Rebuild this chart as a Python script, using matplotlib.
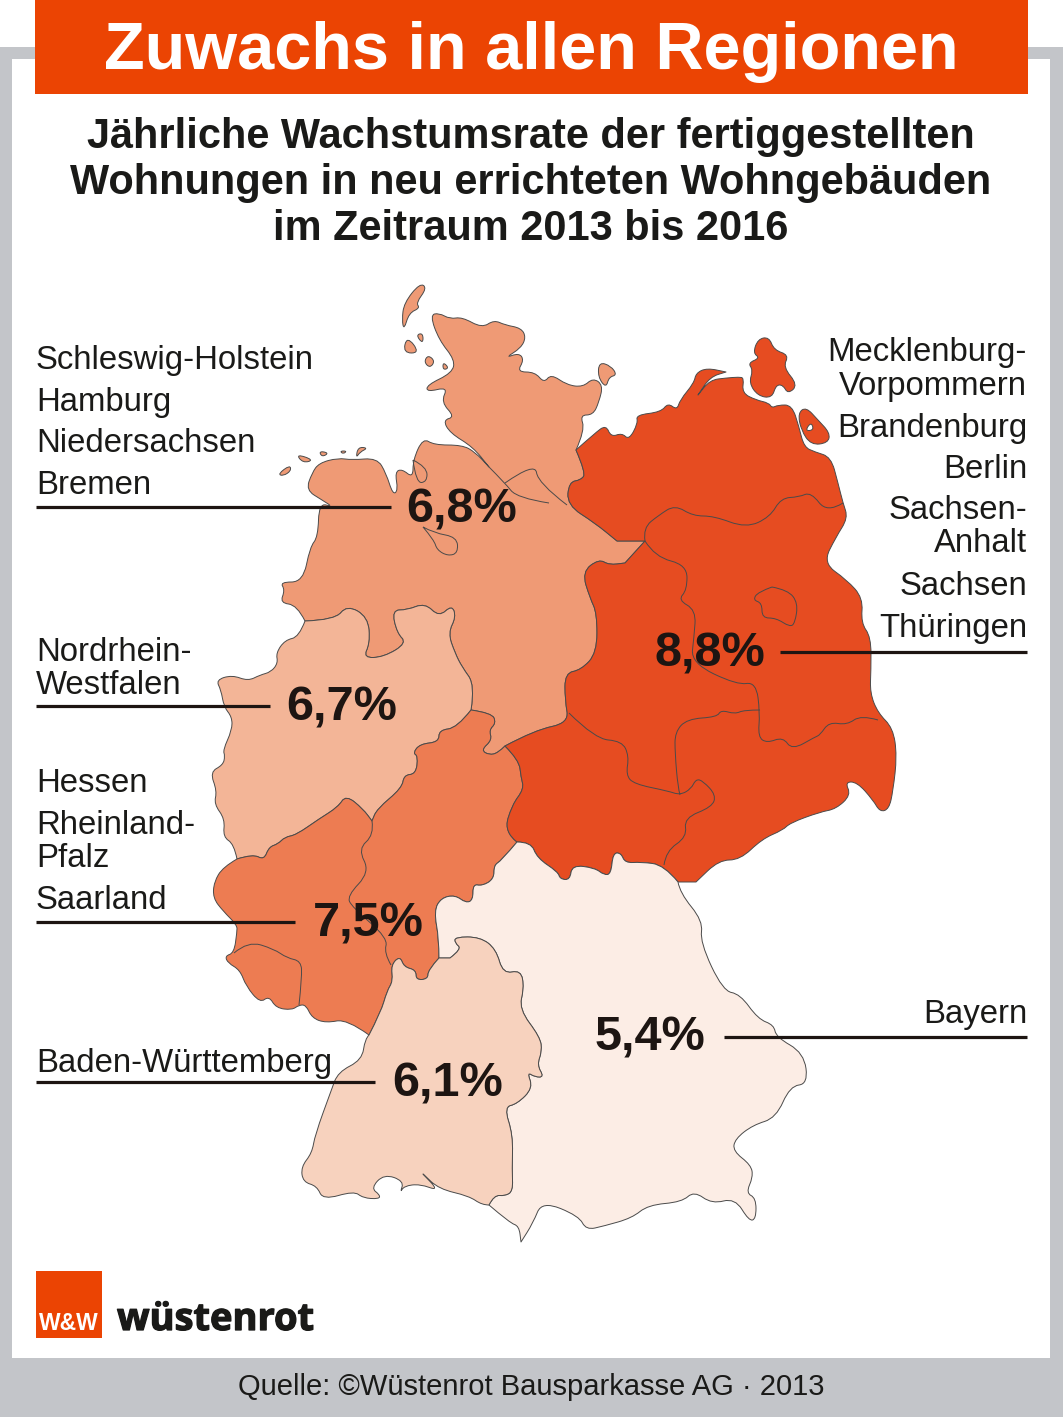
import matplotlib
matplotlib.use('Agg')
import matplotlib.pyplot as plt
import matplotlib.patheffects as pe
from matplotlib.patches import PathPatch, Rectangle
from matplotlib.path import Path

plt.rcParams['font.family'] = ['Liberation Sans', 'DejaVu Sans']

# colours of the rate classes
NW_COLOR = '#EF9A75'
NRW_COLOR = '#F3B597'
SW_COLOR = '#ED7C52'
EAST_COLOR = '#E64C21'
BW_COLOR = '#F7D2BE'
BAY_COLOR = '#FCEDE5'
ORANGE = '#EB4403'
GREY = '#C3C5C9'
DARK = '#1D1512'
EDGE = '#4A4A4A'

TITLE = 'Zuwachs in allen Regionen'
SUBTITLE = ['Jährliche Wachstumsrate der fertiggestellten',
            'Wohnungen in neu errichteten Wohngebäuden',
            'im Zeitraum 2013 bis 2016']
SOURCE = 'Quelle: ©Wüstenrot Bausparkasse AG · 2013'

RATES = ['6,8%', '6,7%', '7,5%', '6,1%', '8,8%', '5,4%']
RATE_POS = [(462, 523), (342, 720), (368, 937), (448, 1096), (710, 667), (650, 1051)]

LEFT_LABELS = ['Schleswig-Holstein', 'Hamburg', 'Niedersachsen', 'Bremen', 'Nordrhein-', 'Westfalen',
               'Hessen', 'Rheinland-', 'Pfalz', 'Saarland', 'Baden-Württemberg']
LEFT_Y = [369, 411, 452, 494, 661, 694, 792, 834, 867, 909, 1072]
RIGHT_LABELS = ['Mecklenburg-', 'Vorpommern', 'Brandenburg', 'Berlin', 'Sachsen-', 'Anhalt',
                'Sachsen', 'Thüringen', 'Bayern']
RIGHT_Y = [361, 395, 437, 478, 519, 552, 595, 637, 1023]

LEADERS = [(36, 391, 507), (36, 270, 706), (36, 295, 922), (36, 375, 1082), (780, 1027, 652), (724, 1027, 1037)]

# shared borders in pixels (a doubled point stays a sharp corner)
B_NW_EAST = [(576, 450), (586, 473), (581, 480), (569, 482), (567, 505), (595, 523), (617, 541), (617, 541),
             (645, 541), (645, 541), (625, 563), (625, 563), (609, 565), (599, 559), (582, 572), (590, 598),
             (597, 613), (597, 653), (581, 670), (565, 673), (565, 700), (569, 723), (535, 730), (505, 746)]
B_NW_SW = [(505, 746), (498, 753), (489, 755), (481, 750), (492, 740), (489, 730), (496, 723), (492, 713), (471, 710)]
B_NW_NRW = [(471, 710), (475, 685), (462, 667), (455, 653), (448, 633), (456, 617), (452, 605), (439, 617),
            (425, 603), (407, 610), (392, 610), (397, 633), (407, 643), (384, 657), (363, 658), (370, 643),
            (368, 617), (347, 605), (335, 620), (305, 621)]
B_NRW_SW = [(471, 710), (457, 728), (439, 730), (439, 742), (420, 744), (413, 753), (418, 756), (416, 774),
            (404, 775), (402, 788), (377, 809), (372, 821), (372, 821), (363, 809), (346, 795), (338, 807), (319, 819),
            (296, 835), (285, 837), (278, 844), (269, 847), (264, 860), (253, 854), (237, 859)]
B_SW_EAST = [(505, 746), (519, 760), (521, 777), (524, 789), (512, 805), (504, 832), (517, 842)]
B_SW_BAY = [(517, 842), (501, 861), (494, 865), (494, 879), (482, 886), (473, 884), (473, 900), (466, 903),
            (455, 895), (441, 898), (434, 911), (439, 939), (439, 958)]
B_SW_BW = [(439, 958), (428, 970), (428, 979), (416, 980), (416, 970), (404, 967), (400, 956), (391, 965),
           (393, 981), (387, 991), (381, 1012), (369, 1035)]
B_EAST_BAY = [(517, 842), (531, 842), (537, 858), (558, 872), (560, 879), (570, 880), (572, 865), (595, 868),
              (604, 875), (611, 874), (613, 853), (621, 853), (625, 863), (641, 862), (664, 865), (678, 882)]
B_BW_LINK = [(439, 958), (450, 958)]
B_BW_BAY = [(450, 958), (462, 949), (455, 943), (455, 937), (480, 937), (496, 949), (503, 974), (521, 970),
            (524, 988), (519, 1009), (540, 1037), (542, 1051), (537, 1065), (544, 1077), (535, 1077), (527, 1072),
            (533, 1088), (517, 1104), (504, 1107), (513, 1135), (512, 1170), (513, 1191), (505, 1196), (494, 1195),
            (489, 1205)]

COAST_NW = [(305, 621), (297, 605), (280, 603), (285, 590), (280, 582), (303, 582), (310, 547), (318, 537),
            (319, 503), (333, 507), (322, 500), (306, 490), (312, 473), (319, 463), (338, 458), (352, 460),
            (377, 458), (386, 473), (393, 495), (398, 490), (395, 472), (402, 469), (413, 478), (413, 460),
            (423, 438), (434, 445), (462, 445), (475, 452), (489, 467), (489, 467), (473, 447), (450, 433), (443, 420),
            (455, 417), (441, 402), (448, 387), (427, 392), (427, 385), (452, 373), (455, 360), (439, 340),
            (430, 315), (439, 313), (450, 319), (462, 317), (482, 328), (494, 320), (505, 325), (521, 328),
            (526, 337), (521, 348), (505, 358), (519, 353), (524, 360), (517, 372), (535, 372), (544, 383),
            (551, 374), (567, 385), (583, 387), (593, 378), (603, 385), (599, 402), (593, 415), (580, 415),
            (585, 430), (576, 450)]
COAST_NRW = [(305, 621), (299, 637), (285, 640), (276, 653), (278, 663), (271, 672), (260, 675), (248, 681),
             (232, 675), (216, 680), (221, 690), (224, 707), (232, 717), (232, 730), (223, 750), (225, 756),
             (223, 765), (210, 772), (217, 791), (214, 804), (225, 819), (223, 837), (234, 844), (237, 859)]
COAST_SW = [(369, 1035), (347, 1019), (326, 1023), (312, 1018), (306, 1005), (299, 1005), (292, 1010), (276, 1008),
            (269, 996), (260, 1003), (246, 986), (240, 970), (228, 963), (225, 956), (234, 953), (237, 932),
            (237, 925), (223, 911), (213, 898), (214, 882), (223, 867), (237, 859)]
COAST_EAST = [(576, 450), (595, 433), (606, 425), (611, 437), (622, 433), (629, 440), (638, 423), (636, 415),
              (661, 412), (668, 403), (677, 410), (680, 400), (694, 383), (696, 373), (707, 368), (726, 372),
              (726, 372), (710, 377), (698, 395), (698, 395), (710, 380), (726, 378), (739, 377), (744, 378),
              (742, 393), (756, 400), (769, 403), (772, 408), (778, 405), (792, 405), (799, 427), (804, 447),
              (815, 452), (831, 457), (838, 483), (843, 503), (848, 518), (836, 537), (823, 563), (847, 580),
              (863, 598), (861, 623), (871, 637), (871, 670), (870, 693), (878, 713), (893, 728), (897, 756),
              (893, 791), (889, 809), (880, 812), (873, 800), (857, 782), (845, 782), (851, 795), (836, 809),
              (820, 812), (790, 823), (783, 830), (762, 839), (740, 860), (719, 860), (696, 882), (696, 882), (678, 882)]
COAST_BW = [(489, 1205), (482, 1205), (469, 1196), (439, 1189), (423, 1174), (423, 1174), (439, 1191), (420, 1184),
            (404, 1186), (400, 1193), (404, 1181), (384, 1174), (371, 1188), (380, 1195), (379, 1199), (363, 1198),
            (354, 1191), (323, 1200), (317, 1186), (303, 1182), (301, 1167), (312, 1153), (315, 1135), (331, 1091),
            (338, 1072), (362, 1060), (365, 1039), (369, 1035)]
COAST_BAY = [(678, 882), (680, 893), (703, 921), (700, 942), (723, 991), (740, 994), (758, 1019), (774, 1025),
             (776, 1037), (804, 1053), (808, 1084), (790, 1086), (776, 1118), (753, 1125), (735, 1139), (733, 1151),
             (751, 1165), (753, 1177), (746, 1193), (756, 1198), (756, 1219), (749, 1221), (735, 1198), (712, 1204),
             (694, 1191), (682, 1202), (648, 1205), (632, 1218), (604, 1226), (586, 1230), (579, 1216), (542, 1201),
             (533, 1223), (521, 1242), (521, 1242), (519, 1226), (510, 1223), (489, 1205)]

# islands
ISLANDS_NW = [
    [(420, 283), (427, 288), (416, 303), (420, 308), (409, 313), (404, 330), (402, 320), (404, 303)],
    [(416, 335), (423, 333), (423, 344)],
    [(407, 336), (420, 353), (403, 353)],
    [(428, 355), (435, 361), (430, 368), (424, 362)],
    [(443, 362), (449, 368), (443, 370)],
    [(599, 362), (611, 366), (617, 375), (609, 377), (606, 388), (598, 377)],
    [(278, 474), (290, 465), (291, 471), (283, 476)],
    [(296, 454), (314, 460), (303, 463)],
    [(319, 451), (329, 453), (322, 457)],
    [(340, 451), (347, 451), (343, 454)],
    [(356, 458), (358, 447), (368, 448), (360, 452)],
]
ISLANDS_EAST = [
    [(758, 339), (769, 337), (774, 350), (789, 355), (783, 367), (798, 385), (788, 394), (783, 385), (776, 385),
     (772, 398), (758, 396), (749, 383), (753, 370), (748, 363), (760, 358), (753, 353)],
    [(806, 407), (818, 420), (830, 433), (828, 443), (811, 445), (801, 430), (798, 413)],
]
USEDOM_HOLE = [(811, 422), (814, 430), (805, 431)]

# inner borders within one colour
INNER_LINES = [
    [(489, 467), (505, 483), (517, 498), (549, 503)],
    [(505, 483), (535, 462), (538, 483), (567, 505)],
    [(413, 460), (427, 467), (427, 482), (416, 483), (413, 460)],
    [(423, 527), (434, 533), (457, 537), (458, 553), (448, 556), (437, 550), (434, 540), (423, 527)],
    [(234, 953), (248, 941), (274, 949), (287, 958), (301, 961), (302, 977), (299, 1005)],
    [(372, 821), (374, 835), (358, 849), (370, 872), (347, 896), (352, 907), (388, 938), (384, 953), (391, 965)],
    [(645, 541), (643, 528), (659, 515), (675, 505), (693, 516), (714, 516), (746, 528), (770, 517), (781, 498),
     (799, 497), (811, 492), (827, 513), (843, 503)],
    [(645, 541), (655, 557), (687, 565), (687, 590), (678, 600), (696, 610), (694, 637), (691, 663), (737, 685),
     (756, 682), (760, 713), (758, 737), (767, 743), (783, 737), (792, 750), (815, 737), (820, 735), (829, 722),
     (847, 725), (861, 715), (878, 720)],
    [(569, 713), (595, 739), (622, 741), (629, 756), (626, 775), (634, 784), (668, 791), (680, 795), (691, 789),
     (696, 779), (703, 781), (716, 795), (712, 807), (684, 818), (687, 837), (666, 851), (664, 865)],
    [(760, 710), (744, 710), (735, 714), (721, 710), (717, 717), (687, 719), (675, 732), (675, 753), (678, 788),
     (680, 795)],
    [(772, 587), (788, 590), (798, 603), (795, 623), (790, 627), (776, 618), (762, 618), (762, 603), (753, 600),
     (758, 592), (772, 587)],
]

fig = plt.figure(figsize=(10.63, 14.17), dpi=100)
ax = fig.add_axes([0, 0, 1, 1])
ax.set_xlim(0, 1063)
ax.set_ylim(1417, 0)
ax.axis('off')


def mid(a, b):
    return ((a[0] + b[0]) / 2, (a[1] + b[1]) / 2)


def curve_through(points):
    # rounded run from first to last point, the traced points act as control points
    verts, codes = [], []
    for i in range(1, len(points) - 1):
        end = points[-1] if i == len(points) - 2 else mid(points[i], points[i + 1])
        verts += [points[i], end]
        codes += [Path.CURVE3, Path.CURVE3]
    if len(points) == 2:
        verts, codes = [points[1]], [Path.LINETO]
    return verts, codes


def region(segments, color, zorder=2):
    verts, codes = [segments[0][0]], [Path.MOVETO]
    for seg in segments:
        v, c = curve_through(seg)
        verts += v
        codes += c
    verts.append(verts[0])
    codes.append(Path.CLOSEPOLY)
    ax.add_patch(PathPatch(Path(verts, codes), facecolor=color, edgecolor=EDGE, linewidth=0.7,
                           joinstyle='round', zorder=zorder))


def island(points, color):
    start = mid(points[-1], points[0])
    region([[start] + points + [start]], color, zorder=2)


# frame, panel and banner
ax.add_patch(Rectangle((0, 47), 1063, 1370, facecolor=GREY, edgecolor='none', zorder=0))
ax.add_patch(Rectangle((12, 59), 1038, 1299, facecolor='white', edgecolor='none', zorder=0))
ax.add_patch(Rectangle((35, 0), 993, 94, facecolor=ORANGE, edgecolor='none', zorder=1))
ax.text(531, 69, TITLE, color='white', fontsize=48, fontweight='bold', ha='center', va='baseline', zorder=3)
for line, y in zip(SUBTITLE, [148, 194, 240]):
    ax.text(531, y, line, color='#1A1A18', fontsize=29.9, fontweight='bold', ha='center', va='baseline')

# map
region([COAST_NW, B_NW_EAST, B_NW_SW, B_NW_NRW], NW_COLOR)
region([COAST_NRW, B_NRW_SW[::-1], B_NW_NRW], NRW_COLOR)
region([COAST_SW, B_NRW_SW[::-1], B_NW_SW[::-1], B_SW_EAST, B_SW_BAY, B_SW_BW], SW_COLOR)
region([COAST_EAST, B_EAST_BAY[::-1], B_SW_EAST[::-1], B_NW_EAST[::-1]], EAST_COLOR)
region([B_SW_BAY, B_BW_LINK, B_BW_BAY, COAST_BAY[::-1], B_EAST_BAY[::-1]], BAY_COLOR)
region([B_SW_BW[::-1], B_BW_LINK, B_BW_BAY, COAST_BW], BW_COLOR)
for points in ISLANDS_NW:
    island(points, NW_COLOR)
for points in ISLANDS_EAST:
    island(points, EAST_COLOR)
island(USEDOM_HOLE, 'white')
for points in INNER_LINES:
    v, c = curve_through(points)
    path = Path([points[0]] + v, [Path.MOVETO] + c)
    ax.add_patch(PathPatch(path, facecolor='none', edgecolor=EDGE, linewidth=0.7, zorder=3))

# labels and leader lines
for label, y in zip(LEFT_LABELS, LEFT_Y):
    ax.text(36, y, label, color='#1A1A18', fontsize=23.7, ha='left', va='baseline', zorder=5)
for label, y in zip(RIGHT_LABELS, RIGHT_Y):
    ax.text(1027, y, label, color='#1A1A18', fontsize=23.7, ha='right', va='baseline', zorder=5)
for x0, x1, y in LEADERS:
    ax.plot([x0, x1], [y, y], color=DARK, linewidth=2.3, solid_capstyle='butt', zorder=4)
for rate, (x, y) in zip(RATES, RATE_POS):
    ax.text(x, y, rate, color=DARK, fontsize=35, fontweight='bold', ha='center', va='baseline', zorder=5)

# logo
ax.add_patch(Rectangle((35.5, 1271), 66.5, 67, facecolor=ORANGE, edgecolor='none', zorder=2))
ax.text(69, 1330, 'W&W', color='white', fontsize=16.5, fontweight='bold', ha='center', va='baseline', zorder=3)
ax.text(117, 1330, 'wüstenrot', color='#1A1A18', fontsize=27.4, fontweight='bold', family=['Open Sans', 'DejaVu Sans'],
        ha='left', va='baseline', zorder=3,
        path_effects=[pe.withStroke(linewidth=0.9, foreground='#1A1A18')])

ax.text(531, 1395, SOURCE, color='#1A1A18', fontsize=21, ha='center', va='baseline', zorder=3)

fig.savefig('out.png', dpi=100)
